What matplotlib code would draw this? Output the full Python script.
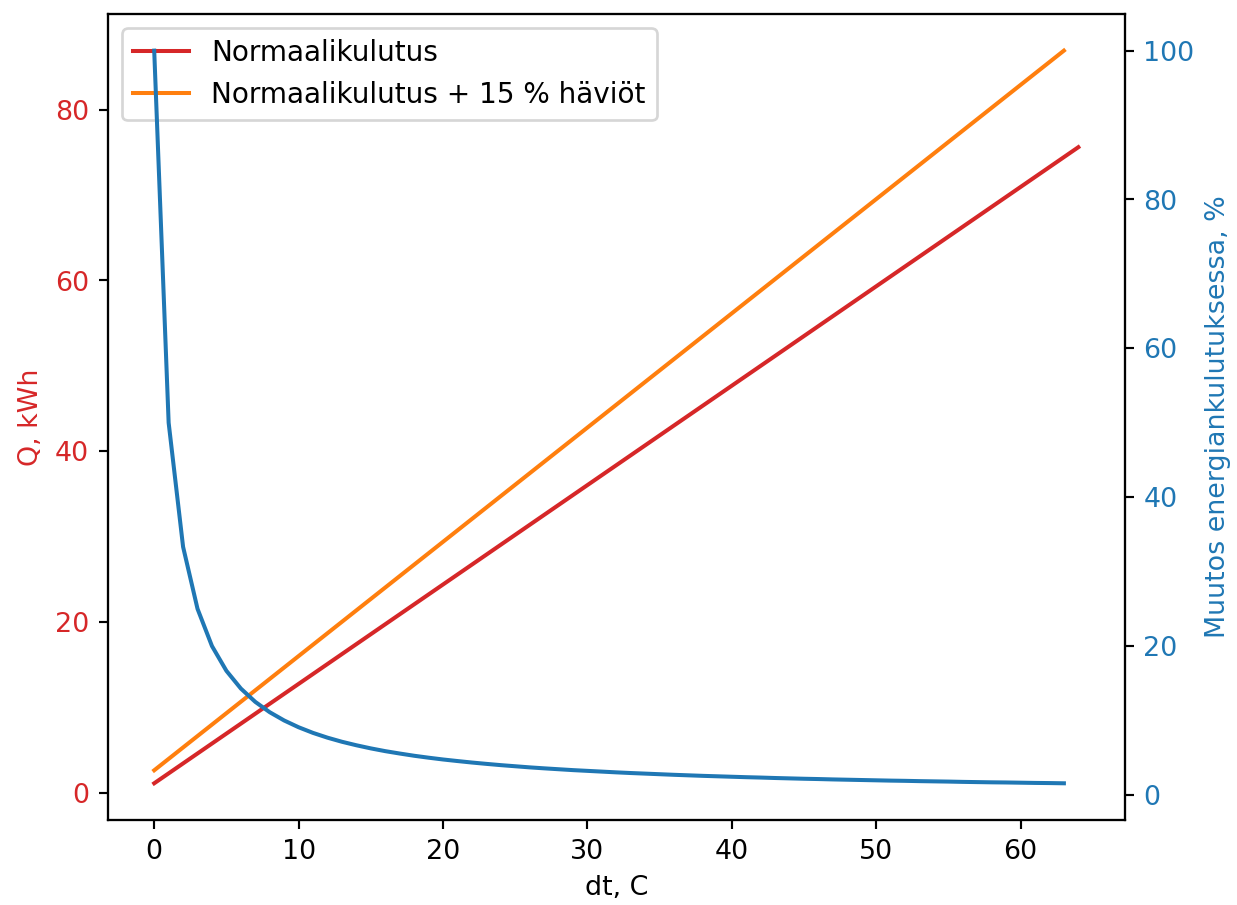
import matplotlib
matplotlib.use("Agg")
import matplotlib.pyplot as plt

# straight lines, end points
dt_normal = [0, 64]
q_normal = [1.16, 75.6]
dt_loss = [0, 63]
q_loss = [2.68, 86.9]

# change in energy consumption, %
dt_change = list(range(64))
change = [100, 50, 33.33, 25, 20, 16.67, 14.29, 12.5, 11.11, 10,
          9.09, 8.33, 7.69, 7.14, 6.67, 6.25, 5.88, 5.56, 5.26, 5,
          4.76, 4.55, 4.35, 4.17, 4, 3.85, 3.70, 3.57, 3.45, 3.33,
          3.23, 3.13, 3.03, 2.94, 2.86, 2.78, 2.70, 2.63, 2.56, 2.5,
          2.44, 2.38, 2.33, 2.27, 2.22, 2.17, 2.13, 2.08, 2.04, 2,
          1.96, 1.92, 1.89, 1.85, 1.82, 1.79, 1.75, 1.72, 1.69, 1.67,
          1.64, 1.61, 1.59, 1.56]

fig, ax1 = plt.subplots(figsize=(6.4, 4.682), dpi=193.3)
fig.subplots_adjust(left=0.0873, right=0.909, top=0.9845, bottom=0.094)

ax1.set_xlabel("dt, C")
ax1.set_ylabel("Q, kWh", color="tab:red")
ax1.plot(dt_normal, q_normal, color="tab:red", label="Normaalikulutus")
ax1.plot(dt_loss, q_loss, color="tab:orange", label="Normaalikulutus + 15 % häviöt")
ax1.tick_params(axis="y", labelcolor="tab:red")
ax1.legend(loc="upper left", fontsize=10.4)

ax2 = ax1.twinx()
ax2.set_ylabel("Muutos energiankulutuksessa, %", color="tab:blue")
ax2.plot(dt_change, change, color="tab:blue")
ax2.tick_params(axis="y", labelcolor="tab:blue")

plt.savefig("out.png")
